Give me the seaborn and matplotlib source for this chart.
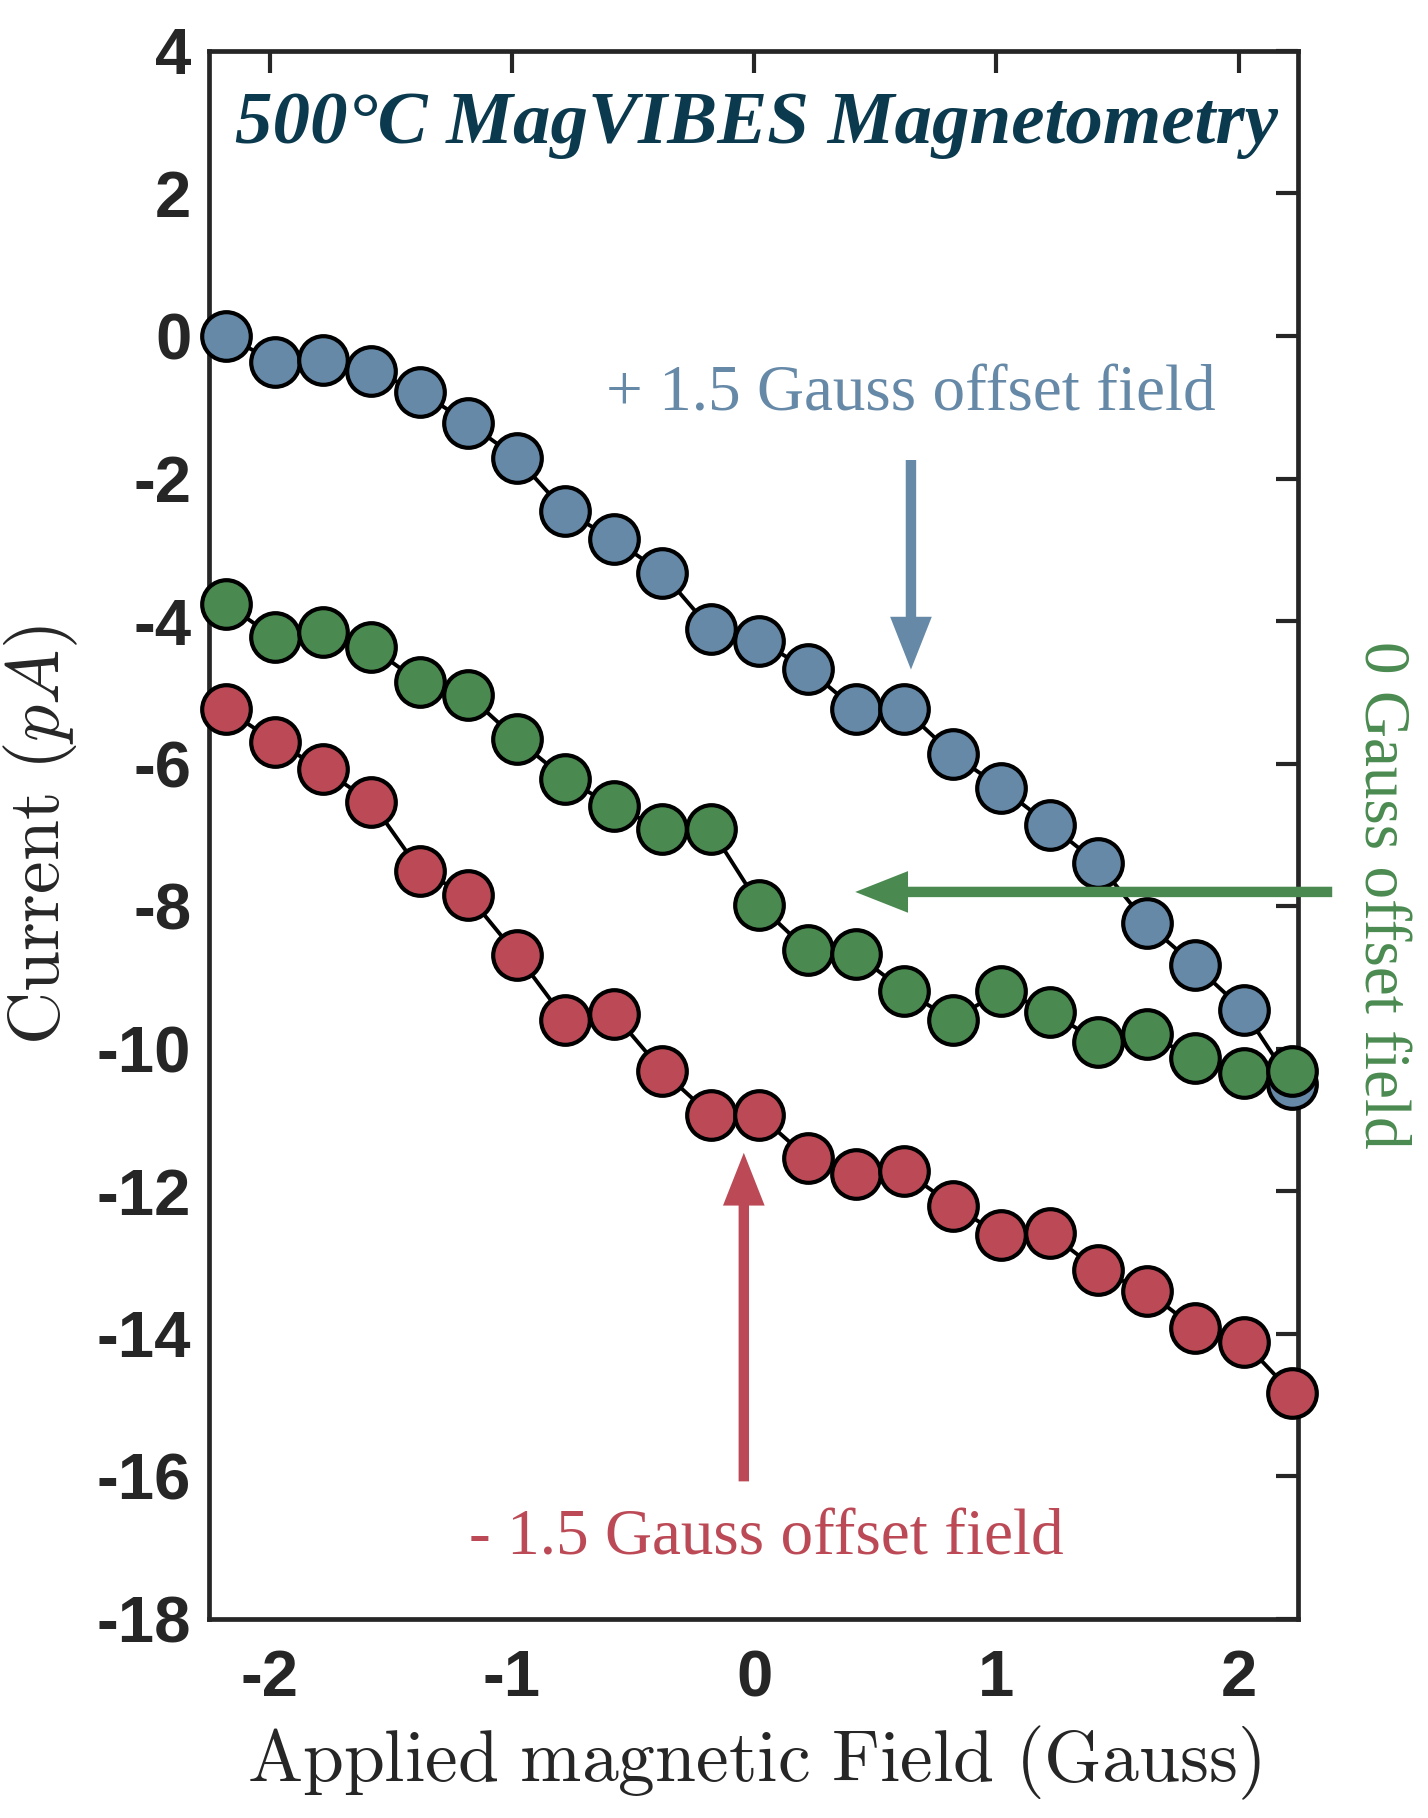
import matplotlib
matplotlib.use("Agg")
import matplotlib.pyplot as plt
import numpy as np
import seaborn as sns

# applied field (Gauss)
field = [-2.18, -1.98, -1.78, -1.58, -1.38, -1.18, -0.98, -0.78, -0.58, -0.38, -0.18, 0.02,
         0.22, 0.42, 0.62, 0.82, 1.02, 1.22, 1.42, 1.62, 1.82, 2.02, 2.22]

# current (pA) for each offset field
plus_offset = [0.0, -0.36, -0.33, -0.49, -0.78, -1.22, -1.71, -2.46, -2.85, -3.32, -4.11, -4.28,
               -4.67, -5.24, -5.24, -5.87, -6.34, -6.86, -7.40, -8.24, -8.83, -9.46, -10.49]
zero_offset = [-3.76, -4.23, -4.15, -4.37, -4.86, -5.04, -5.66, -6.21, -6.60, -6.91, -6.91, -7.98,
               -8.62, -8.67, -9.19, -9.59, -9.19, -9.48, -9.90, -9.79, -10.13, -10.34, -10.31]
minus_offset = [-5.24, -5.69, -6.08, -6.54, -7.50, -7.85, -8.68, -9.59, -9.51, -10.31, -10.93, -10.93,
                -11.53, -11.76, -11.71, -12.20, -12.62, -12.59, -13.11, -13.40, -13.92, -14.11, -14.83]

x_ticks = [-2, -1, 0, 1, 2]
y_ticks = list(range(4, -19, -2))

BLUE = "#6689a8"
GREEN = "#4a8a50"
RED = "#bc4a56"
TITLE_COLOR = "#0b3a4f"
AXIS_COLOR = "#262626"

sns.set_style("white")
plt.rcParams["font.family"] = ["Liberation Sans", "DejaVu Sans"]
plt.rcParams["mathtext.fontset"] = "cm"

fig = plt.figure(figsize=(14.28, 18.18), dpi=100)
ax = fig.add_axes([0.1465, 0.1095, 0.7625, 0.8625])

for vals, col in [(plus_offset, BLUE), (zero_offset, GREEN), (minus_offset, RED)]:
    sns.lineplot(x=field, y=vals, ax=ax, color="black", linewidth=2.8,
                 marker="o", markersize=35, markerfacecolor=col,
                 markeredgecolor="black", markeredgewidth=3.0, clip_on=False)

ax.set_xlim(-2.25, 2.245)
ax.set_ylim(-18, 4)
ax.set_xticks(x_ticks)
ax.set_yticks(y_ticks)
ax.set_xticklabels([str(t) for t in x_ticks])
ax.set_yticklabels([str(t) for t in y_ticks])
ax.tick_params(direction="in", length=16, width=3.0, color=AXIS_COLOR,
               top=True, right=True, labelsize=47, labelcolor=AXIS_COLOR)
ax.tick_params(axis="y", pad=13)
ax.tick_params(axis="x", pad=22)
for lab in ax.get_xticklabels() + ax.get_yticklabels():
    lab.set_fontweight("bold")
for sp in ax.spines.values():
    sp.set_visible(True)
    sp.set_linewidth(3.4)
    sp.set_color(AXIS_COLOR)
    sp.set_zorder(1)

ax.set_xlabel(r"$\mathrm{Applied\ magnetic\ Field\ (Gauss)}$", fontsize=53, labelpad=10, color=AXIS_COLOR)
ax.set_ylabel(r"$\mathrm{Current}\ (pA)$", fontsize=53, labelpad=12, color=AXIS_COLOR)

serif = ["Liberation Serif", "DejaVu Serif"]
ax.text(0.01, 2.96, "500°C MagVIBES Magnetometry", family=serif, fontsize=54,
        fontweight="bold", fontstyle="italic", color=TITLE_COLOR, ha="center", va="center")
ax.text(0.647, -0.83, "+ 1.5 Gauss offset field", family=serif, fontsize=47,
        color=BLUE, ha="center", va="center")
ax.text(0.048, -16.88, "- 1.5 Gauss offset field", family=serif, fontsize=47,
        color=RED, ha="center", va="center")
ax.text(2.585, -7.84, "0 Gauss offset field", family=serif, fontsize=47,
        color=GREEN, ha="center", va="center", rotation=-90, clip_on=False)

arrow_style = "simple,head_length=3.8,head_width=3.0,tail_width=0.75"
for tip, tail, col in [((0.647, -4.68), (0.647, -1.74), BLUE),
                       ((0.417, -7.80), (2.386, -7.80), GREEN),
                       ((-0.043, -11.46), (-0.043, -16.07), RED)]:
    ax.annotate("", xy=tip, xytext=tail, annotation_clip=False,
                arrowprops=dict(arrowstyle=arrow_style, mutation_scale=10,
                                color=col, shrinkA=0, shrinkB=0, lw=0))

fig.savefig("out.png", dpi=100)
